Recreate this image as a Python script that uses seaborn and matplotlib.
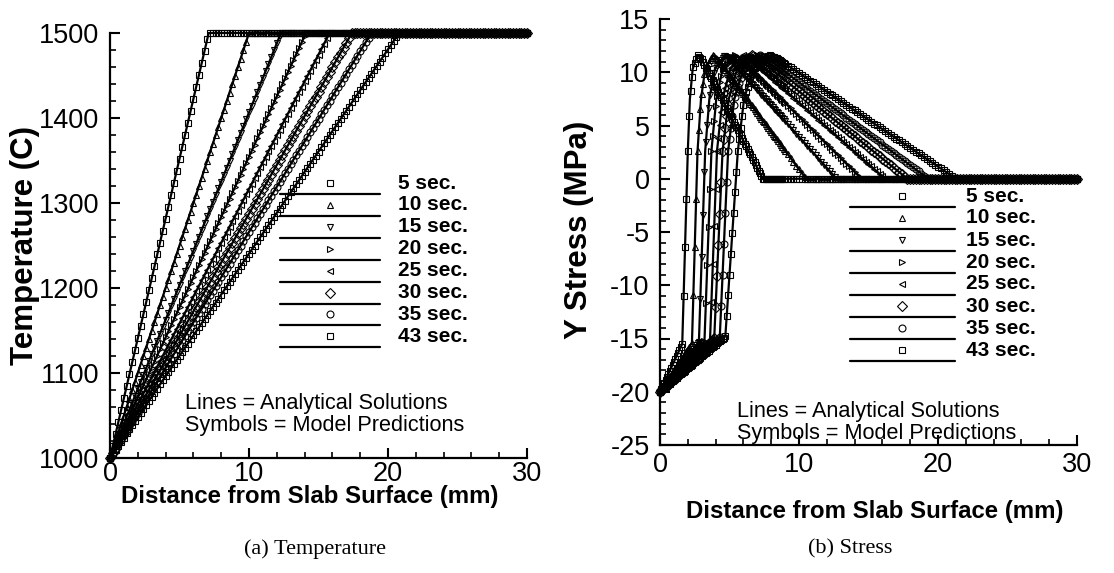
import numpy as np
import pandas as pd
import seaborn as sns
import matplotlib
matplotlib.use("Agg")
import matplotlib.pyplot as plt
from matplotlib.lines import Line2D
from matplotlib.ticker import MultipleLocator

sns.set_theme(style="ticks")
plt.rcParams['font.family'] = ['Liberation Sans', 'DejaVu Sans']
plt.rcParams.update({
    "text.color": "black", "axes.labelcolor": "black",
    "xtick.color": "black", "ytick.color": "black",
    "axes.unicode_minus": False,
})

# ---------------- data ----------------
times = [5, 10, 15, 20, 25, 30, 35, 43]
labels = ["5 sec.", "10 sec.", "15 sec.", "20 sec.", "25 sec.", "30 sec.", "35 sec.", "43 sec."]
markers = ["s", "^", "v", ">", "<", "D", "o", "s"]

# temperature: surface 1000 C, rising linearly to 1500 C at the shell front (mm)
temp_surface = 1000
temp_pour = 1500
temp_front_x = [7.1, 10.0, 12.3, 14.1, 15.8, 17.4, 18.8, 20.8]

# stress profile key points (mm, MPa)
stress_surface = -20.0
knee_x = [1.6, 2.3, 2.8, 3.2, 3.6, 3.9, 4.3, 4.7]
knee_y = [-15.5, -15.4, -15.3, -15.2, -15.1, -15.0, -14.9, -14.8]
rise_x = [2.0, 2.7, 3.25, 3.7, 4.1, 4.5, 4.9, 5.6]      # stress = 2.6
x_at_7 = [2.15, 2.95, 3.55, 4.05, 4.5, 4.95, 5.35, 6.05]  # stress = 7.5
x_at_10 = [2.35, 3.25, 3.95, 4.5, 5.05, 5.55, 6.0, 6.7]   # stress = 10.3
peak_x = [2.7, 3.8, 4.65, 5.4, 6.0, 6.6, 7.2, 7.9]
peak_y = 11.6
after_x = [3.0, 4.15, 5.05, 5.85, 6.5, 7.15, 7.8, 8.55]   # stress = 11.2
zero_x = [7.4, 10.5, 12.7, 14.5, 16.2, 17.8, 19.3, 21.3]
x_end = 30.0

# model node positions (mm): fine near the surface for the stress model
temp_nodes = np.arange(0, x_end + 1e-9, 0.2)
stress_nodes = np.concatenate([np.arange(0, 9, 0.1), np.arange(9, x_end + 1e-9, 0.2)])

# ---------------- figure ----------------
W, H = 1114, 573
fig = plt.figure(figsize=(W / 100, H / 100), dpi=100)


def fig_rect(x0, x1, ytop, ybot):
    return [x0 / W, 1 - ybot / H, (x1 - x0) / W, (ybot - ytop) / H]


axL = fig.add_axes(fig_rect(110, 527, 33, 458))
axR = fig.add_axes(fig_rect(660, 1077, 19, 445))

mk_kw = dict(color="black", linestyle="", markersize=5, markerfacecolor="none",
             markeredgecolor="black", markeredgewidth=0.8,
             sort=False, estimator=None, clip_on=False)

# left: temperature
for i, t in enumerate(times):
    kx = [0, temp_front_x[i], x_end]
    ky = [temp_surface, temp_pour, temp_pour]
    df = pd.DataFrame({"x": kx, "y": ky})
    sns.lineplot(data=df, x="x", y="y", ax=axL, color="black", lw=1.6,
                 sort=False, estimator=None, clip_on=False)
    dm = pd.DataFrame({"x": temp_nodes, "y": np.interp(temp_nodes, kx, ky)})
    sns.lineplot(data=dm, x="x", y="y", ax=axL, marker=markers[i], **mk_kw)

# right: stress
for i, t in enumerate(times):
    kx = [0, knee_x[i], rise_x[i], x_at_7[i], x_at_10[i], peak_x[i], after_x[i], zero_x[i], x_end]
    ky = [stress_surface, knee_y[i], 2.6, 7.5, 10.3, peak_y, 11.2, 0, 0]
    df = pd.DataFrame({"x": kx, "y": ky})
    sns.lineplot(data=df, x="x", y="y", ax=axR, color="black", lw=1.6,
                 sort=False, estimator=None, clip_on=False)
    dm = pd.DataFrame({"x": stress_nodes, "y": np.interp(stress_nodes, kx, ky)})
    sns.lineplot(data=dm, x="x", y="y", ax=axR, marker=markers[i], **mk_kw)

for ax in (axL, axR):
    ax.set_xlim(0, 30)
    ax.xaxis.set_major_locator(MultipleLocator(10))
    ax.xaxis.set_minor_locator(MultipleLocator(2))
    ax.spines["top"].set_visible(False)
    ax.spines["right"].set_visible(False)
    for s in ("left", "bottom"):
        ax.spines[s].set_linewidth(1.6)
        ax.spines[s].set_color("black")
    ax.tick_params(which="major", direction="in", length=7, width=1.5, colors="black")
    ax.tick_params(which="minor", direction="in", length=4, width=1.2)
    ax.tick_params(axis="x", labelsize=19.5)
    ax.tick_params(axis="y", labelsize=19.5, pad=7.5)
    ax.set_facecolor("white")

axL.tick_params(axis="x", pad=2)
axR.tick_params(axis="x", pad=5)

axL.set_ylim(1000, 1500)
axL.yaxis.set_major_locator(MultipleLocator(100))
axL.yaxis.set_minor_locator(MultipleLocator(20))
axR.set_ylim(-25, 15)
axR.yaxis.set_major_locator(MultipleLocator(5))
axR.yaxis.set_minor_locator(MultipleLocator(1))

axL.set_xlabel("Distance from Slab Surface (mm)", fontsize=17.3, fontweight="bold")
axR.set_xlabel("Distance from Slab Surface (mm)", fontsize=17.3, fontweight="bold")
axL.set_ylabel("Temperature (C)", fontsize=22.5, fontweight="bold")
axR.set_ylabel("Y Stress (MPa)", fontsize=22.5, fontweight="bold")
axL.xaxis.set_label_coords(0.48, -0.063)
axR.xaxis.set_label_coords(0.515, -0.129)
axL.yaxis.set_label_coords(-0.168, 0.5)
axR.yaxis.set_label_coords(-0.158, 0.505)


# legends (drawn in figure pixel coordinates)
def fx(x):
    return x / W


def fy(y):
    return 1 - y / H


def draw_legend(sym_x, line_x0, line_x1, text_x, row0, dy):
    for i, lab in enumerate(labels):
        ry = row0 + dy * i
        fig.add_artist(Line2D([fx(sym_x)], [fy(ry)], marker=markers[i], markersize=5,
                              markerfacecolor="none", markeredgecolor="black",
                              markeredgewidth=0.8, linestyle="", transform=fig.transFigure))
        fig.add_artist(Line2D([fx(line_x0), fx(line_x1)], [fy(ry + 11), fy(ry + 11)],
                              color="black", lw=1.6, transform=fig.transFigure))
        fig.text(fx(text_x), fy(ry), lab, fontsize=15, fontweight="bold",
                 ha="left", va="center")


draw_legend(330, 280, 380, 398, 183, 21.9)
draw_legend(902, 850, 955, 966, 196, 22.0)

fig.text(fx(185), fy(403), "Lines = Analytical Solutions", fontsize=15.6, ha="left", va="center")
fig.text(fx(185), fy(425), "Symbols = Model Predictions", fontsize=15.6, ha="left", va="center")
fig.text(fx(737), fy(412), "Lines = Analytical Solutions", fontsize=15.6, ha="left", va="center")
fig.text(fx(737), fy(433), "Symbols = Model Predictions", fontsize=15.6, ha="left", va="center")

fig.text(fx(315), fy(549), "(a) Temperature", fontsize=16, ha="center", va="center",
         family=["Liberation Serif", "DejaVu Serif"])
fig.text(fx(850), fy(549), "(b) Stress", fontsize=16, ha="center", va="center",
         family=["Liberation Serif", "DejaVu Serif"])

fig.savefig("out.png", dpi=100, facecolor="white")
